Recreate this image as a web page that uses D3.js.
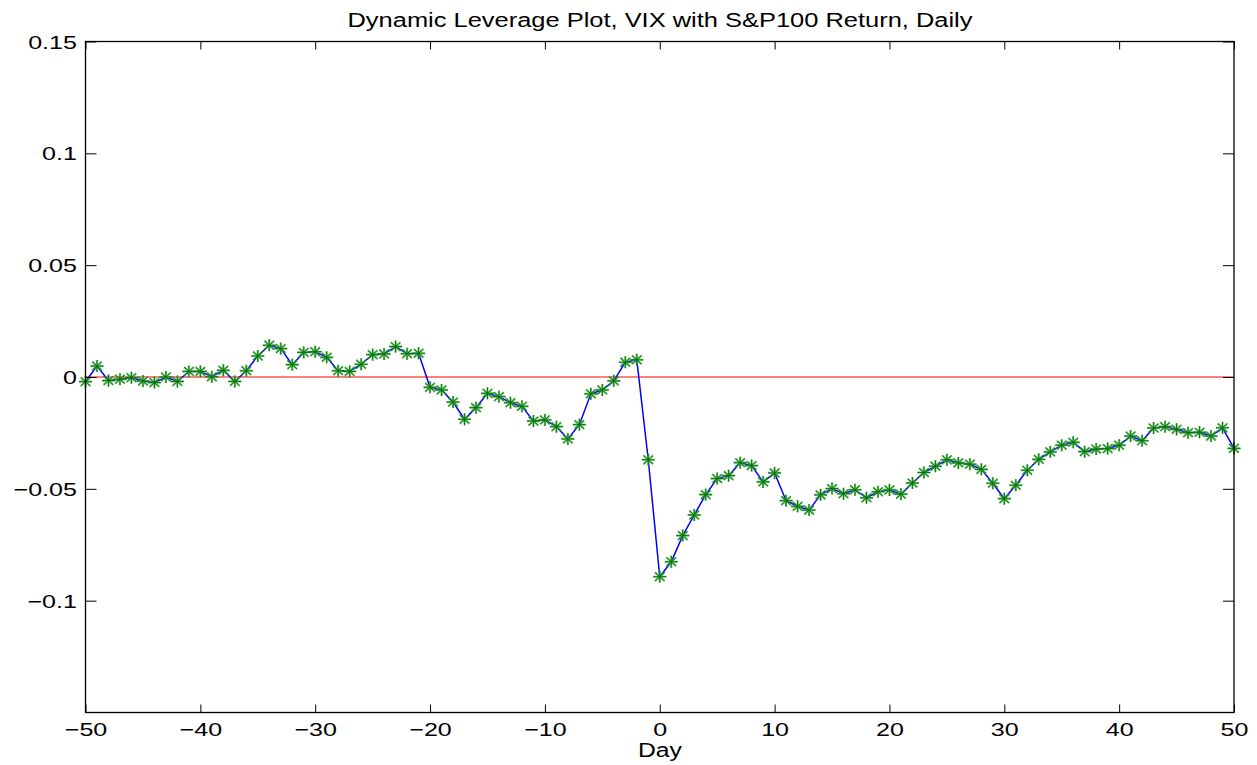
<!DOCTYPE html>
<html>
<head>
<meta charset="utf-8">
<script src="https://cdn.jsdelivr.net/npm/d3@7/dist/d3.min.js"></script>
<style>
  html, body { margin: 0; padding: 0; background: #ffffff; }
  svg { display: block; }
  text { font-family: "Liberation Sans", Arial, Helvetica, sans-serif; fill: #000; }
</style>
</head>
<body>
<svg id="chart" width="1257" height="765"></svg>
<script>
const days = [-50,-49,-48,-47,-46,-45,-44,-43,-42,-41,-40,-39,-38,-37,-36,-35,-34,-33,-32,-31,
  -30,-29,-28,-27,-26,-25,-24,-23,-22,-21,-20,-19,-18,-17,-16,-15,-14,-13,-12,-11,
  -10,-9,-8,-7,-6,-5,-4,-3,-2,-1,0,1,2,3,4,5,6,7,8,9,10,11,12,13,14,15,16,17,18,19,
  20,21,22,23,24,25,26,27,28,29,30,31,32,33,34,35,36,37,38,39,40,41,42,43,44,45,46,47,48,49,50];
const leverage = [-0.0021,0.0049,-0.0016,-0.0010,-0.0003,-0.0018,-0.0025,0.0000,-0.0020,0.0025,
  0.0025,0.0001,0.0030,-0.0020,0.0028,0.0094,0.0142,0.0127,0.0055,0.0110,
  0.0113,0.0088,0.0028,0.0025,0.0057,0.0100,0.0103,0.0136,0.0104,0.0106,
  -0.0046,-0.0058,-0.0112,-0.0189,-0.0137,-0.0073,-0.0088,-0.0115,-0.0131,-0.0197,
  -0.0192,-0.0222,-0.0277,-0.0213,-0.0075,-0.0058,-0.0017,0.0066,0.0077,-0.0370,
  -0.0893,-0.0826,-0.0709,-0.0617,-0.0526,-0.0454,-0.0441,-0.0383,-0.0396,-0.0469,
  -0.0429,-0.0553,-0.0578,-0.0595,-0.0527,-0.0499,-0.0522,-0.0504,-0.0540,-0.0513,
  -0.0505,-0.0524,-0.0474,-0.0427,-0.0399,-0.0370,-0.0384,-0.0390,-0.0413,-0.0475,
  -0.0544,-0.0484,-0.0417,-0.0368,-0.0335,-0.0305,-0.0292,-0.0334,-0.0322,-0.0320,
  -0.0305,-0.0264,-0.0285,-0.0228,-0.0222,-0.0234,-0.0249,-0.0247,-0.0264,-0.0227,-0.0319];
const xTicks = [-50,-40,-30,-20,-10,0,10,20,30,40,50];
const yTicks = [-0.1,-0.05,0,0.05,0.1,0.15];
const yTickLabels = ["\u22120.1","\u22120.05","0","0.05","0.1","0.15"];
const titleText = "Dynamic Leverage Plot, VIX with S&P100 Return, Daily";
const xLabel = "Day";

const L = 85.5, R = 1234, T = 41.5, B = 712.5;
const sx = 1.32; // horizontal stretch of the reference text
const svg = d3.select("#chart");
const x = d3.scaleLinear().domain([-50, 50]).range([L, R]);
const y = d3.scaleLinear().domain([-0.15, 0.15]).range([B, T]);

// zero line
svg.append("line")
  .attr("x1", x(-50)).attr("x2", x(50))
  .attr("y1", y(0)).attr("y2", y(0))
  .attr("stroke", "#ff0000").attr("stroke-opacity", 0.5).attr("stroke-width", 2);

// blue line
const data = days.map((d, i) => ({d, v: leverage[i]}));
svg.append("path").datum(data)
  .attr("fill", "none").attr("stroke", "#0000ff").attr("stroke-width", 1.5)
  .attr("d", d3.line().x(p => x(p.d)).y(p => y(p.v)));

// asterisk markers
const star = "M-6.5,0H6.5M0,-6V6M-4.8,-4.3L4.8,4.3M-4.8,4.3L4.8,-4.3";
const mk = svg.append("g");
mk.selectAll("path.halo").data(data).enter().append("path")
  .attr("class", "halo")
  .attr("transform", p => `translate(${x(p.d)},${y(p.v)})`)
  .attr("d", star).attr("fill", "none")
  .attr("stroke", "#4aa84a").attr("stroke-opacity", 0.7).attr("stroke-width", 2.2);
mk.selectAll("path.core").data(data).enter().append("path")
  .attr("class", "core")
  .attr("transform", p => `translate(${x(p.d)},${y(p.v)})`)
  .attr("d", star).attr("fill", "none")
  .attr("stroke", "#007a00").attr("stroke-width", 1);

// axes (inward ticks, box)
function styleAxis(g) {
  g.select(".domain").remove();
  g.selectAll(".tick line").attr("stroke", "#000").attr("stroke-width", 1);
}
const gB = svg.append("g").attr("transform", `translate(0,${B})`)
  .call(d3.axisBottom(x).tickValues(xTicks).tickSizeInner(-8).tickSizeOuter(0).tickPadding(10));
styleAxis(gB);
gB.selectAll(".tick text")
  .attr("font-size", 19).attr("dy", null).attr("y", 23.5)
  .attr("transform", `scale(${sx},1)`)
  .attr("font-family", "Liberation Sans, Arial, sans-serif");

const gT = svg.append("g").attr("transform", `translate(0,${T})`)
  .call(d3.axisTop(x).tickValues(xTicks).tickSizeInner(-8).tickSizeOuter(0).tickFormat(""));
styleAxis(gT);

const gL = svg.append("g").attr("transform", `translate(${L},0)`)
  .call(d3.axisLeft(y).tickValues(yTicks).tickSizeInner(-11).tickSizeOuter(0)
    .tickFormat((d, i) => yTickLabels[i]));
styleAxis(gL);
gL.selectAll(".tick text")
  .attr("font-size", 19).attr("x", -6.5).attr("dy", "0.35em")
  .attr("transform", `scale(${sx},1)`)
  .attr("font-family", "Liberation Sans, Arial, sans-serif");

const gR = svg.append("g").attr("transform", `translate(${R},0)`)
  .call(d3.axisRight(y).tickValues(yTicks).tickSizeInner(-11).tickSizeOuter(0).tickFormat(""));
styleAxis(gR);

// box
svg.append("rect").attr("x", L).attr("y", T).attr("width", R - L).attr("height", B - T)
  .attr("fill", "none").attr("stroke", "#000").attr("stroke-width", 1.3);

// title
svg.append("text").attr("x", 660).attr("y", 27).attr("text-anchor", "middle")
  .attr("font-size", 20).attr("textLength", 625).attr("lengthAdjust", "spacingAndGlyphs")
  .text(titleText);

// x label
svg.append("text").attr("x", 660).attr("y", 757).attr("text-anchor", "middle")
  .attr("font-size", 20).attr("textLength", 44).attr("lengthAdjust", "spacingAndGlyphs")
  .text(xLabel);
</script>
</body>
</html>
